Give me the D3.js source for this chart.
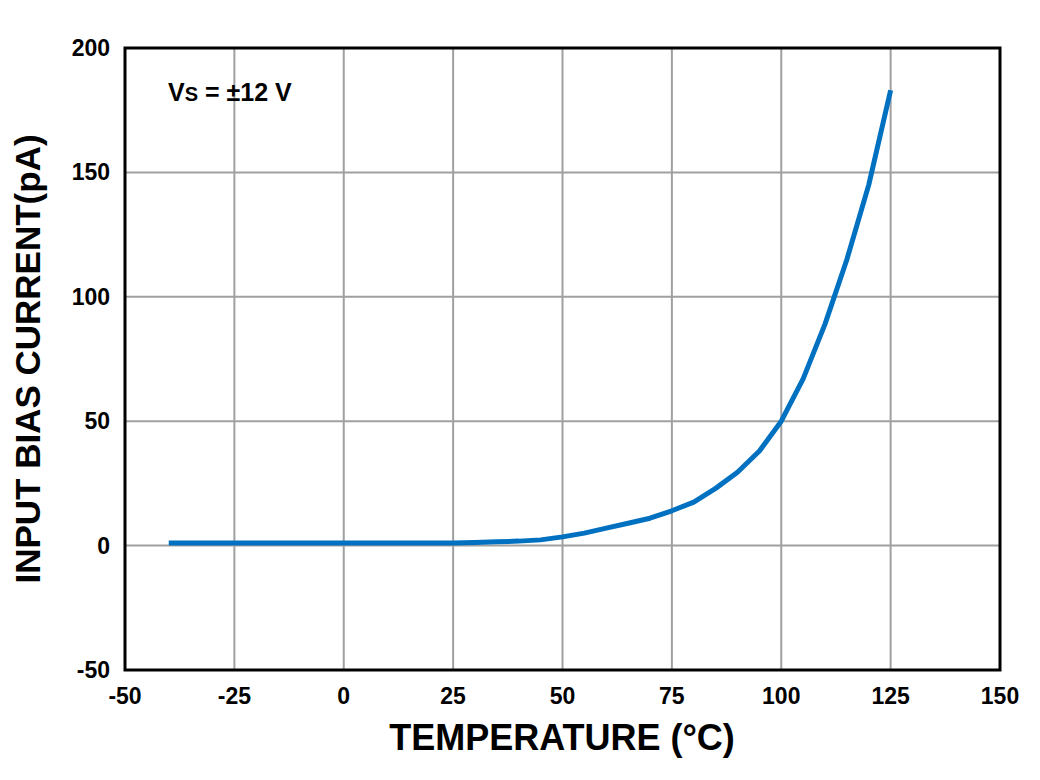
<!DOCTYPE html>
<html><head><meta charset="utf-8">
<script src="https://cdn.jsdelivr.net/npm/d3@7"></script>
<style>body{margin:0;background:#fff}text{font-family:"Liberation Sans",Arial,sans-serif;font-weight:bold}</style>
</head><body>
<script>
var temps = [-40,-30,-20,-10,0,10,20,25,30,35,40,45,50,55,60,65,70,75,80,85,90,95,100,105,110,115,120,125];
var bias  = [1,1,1,1,1,1,1,1,1.2,1.5,1.8,2.3,3.5,5,7,9,11,14,17.5,23,29.5,38,50,67,89,115,145,183];
var xTicks = [-50,-25,0,25,50,75,100,125,150];
var yTicks = [-50,0,50,100,150,200];

var svg = d3.select('body').append('svg').attr('width',1040).attr('height',780);
var m = {l:125, r:1000, t:48, b:670};
var x = d3.scaleLinear().domain([-50,150]).range([m.l,m.r]);
var y = d3.scaleLinear().domain([-50,200]).range([m.b,m.t]);

svg.selectAll('.gx').data(xTicks).enter().append('line')
  .attr('x1',d=>x(d)).attr('x2',d=>x(d)).attr('y1',m.t).attr('y2',m.b)
  .attr('stroke','#a0a0a0').attr('stroke-width',2);
svg.selectAll('.gy').data(yTicks).enter().append('line')
  .attr('y1',d=>y(d)).attr('y2',d=>y(d)).attr('x1',m.l).attr('x2',m.r)
  .attr('stroke','#a0a0a0').attr('stroke-width',2);

svg.append('path').datum(d3.zip(temps,bias))
  .attr('d', d3.line().x(d=>x(d[0])).y(d=>y(d[1])))
  .attr('fill','none').attr('stroke','#0070c0').attr('stroke-width',5)
  .attr('stroke-linejoin','round');

svg.append('rect').attr('x',m.l).attr('y',m.t).attr('width',m.r-m.l).attr('height',m.b-m.t)
  .attr('fill','none').attr('stroke','#000').attr('stroke-width',3);

svg.selectAll('.xl').data(xTicks).enter().append('text')
  .attr('x',d=>x(d)).attr('y',704).attr('text-anchor','middle').attr('font-size',23).text(d=>d);
svg.selectAll('.yl').data(yTicks).enter().append('text')
  .attr('x',110).attr('y',d=>y(d)+8).attr('text-anchor','end').attr('font-size',23).text(d=>d);

svg.append('text').attr('x',562).attr('y',750).attr('text-anchor','middle').attr('font-size',36)
  .text('TEMPERATURE (°C)');
svg.append('text').attr('transform','translate(40,359) rotate(-90)').attr('text-anchor','middle')
  .attr('font-size',35).text('INPUT BIAS CURRENT(pA)');

var t = svg.append('text').attr('x',168).attr('y',101).attr('font-size',25);
t.append('tspan').text('V');
t.append('tspan').attr('font-size',20).text('S');
t.append('tspan').text(' = ±12 V');
</script>
</body></html>
